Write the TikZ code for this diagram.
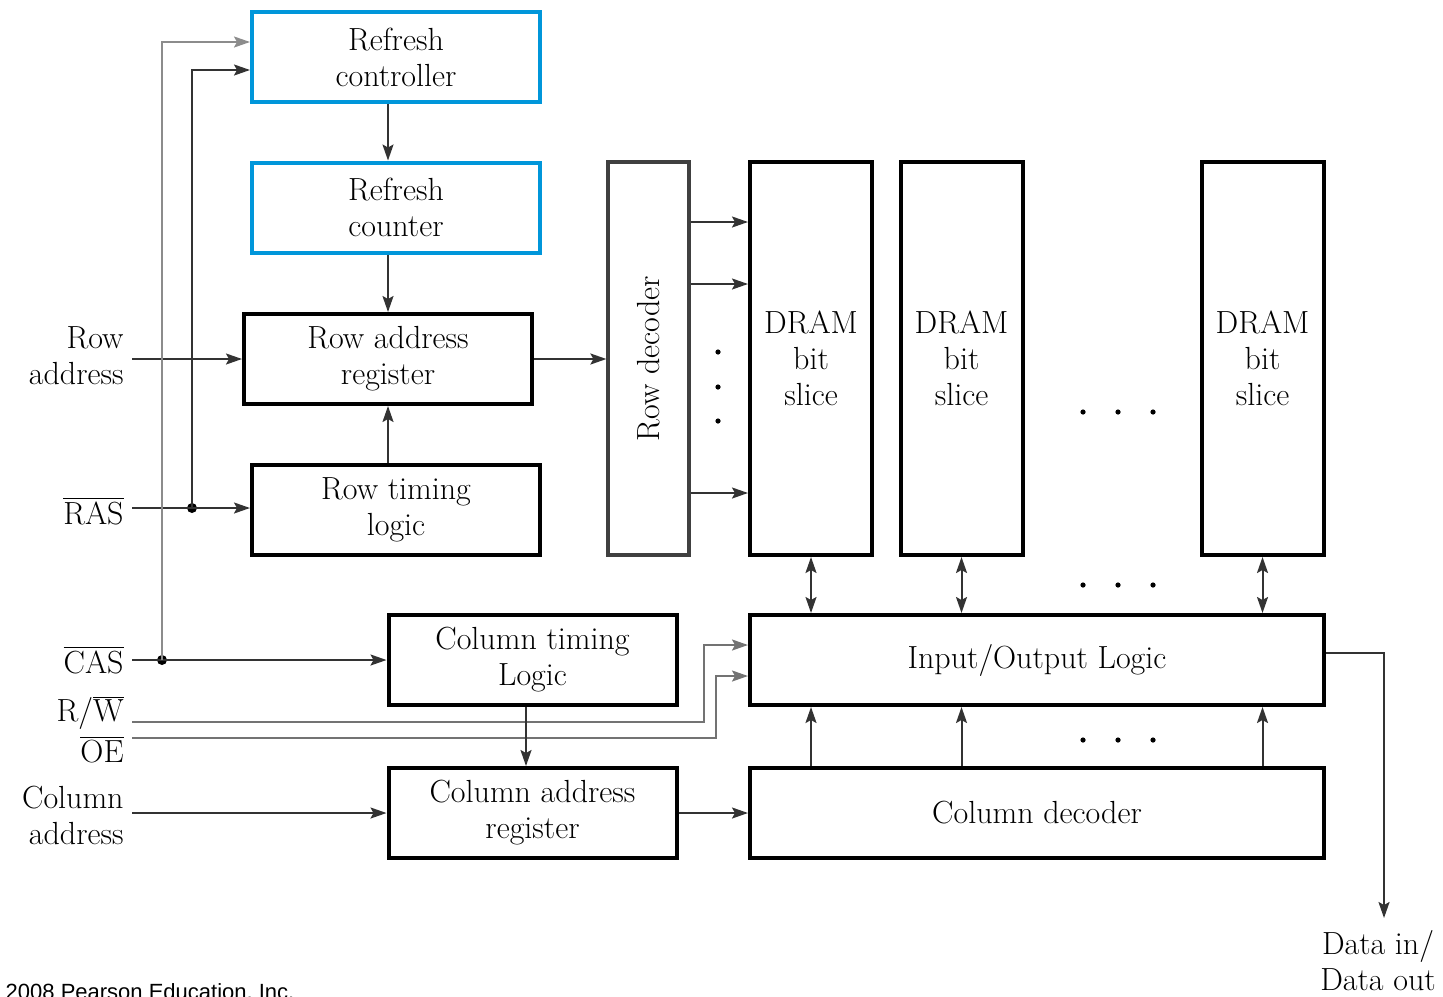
\documentclass[tikz,border=0pt]{standalone}
\usepackage{fontspec}
\newfontfamily\notefont{Liberation Sans}
\usetikzlibrary{arrows.meta}
\definecolor{refblue}{RGB}{0,150,218}
\begin{document}
\begin{tikzpicture}[x=0.5pt,y=-0.5pt,
  lbl/.style={font=\fontsize{16}{18}\selectfont, inner sep=0pt, align=center},
  box/.style={draw, line width=2pt, lbl},
  blk/.style={box, minimum width=144pt, minimum height=45pt},
  blue blk/.style={blk, draw=refblue},
  slice/.style={box, minimum width=61pt, minimum height=196.5pt},
  wide/.style={box, minimum width=287pt, minimum height=45pt},
  sig/.style={lbl, anchor=east, align=right},
  wire/.style={line width=1pt, draw=black!80},
  arr/.style={wire, -{Stealth[length=8pt,width=5.5pt,inset=1.5pt]}},
  darr/.style={wire, {Stealth[length=8pt,width=5.5pt,inset=1.5pt]}-{Stealth[length=8pt,width=5.5pt,inset=1.5pt]}},
  dot/.style={circle, fill=black, inner sep=0pt, minimum size=5pt},
  smalldot/.style={circle, fill=black, inner sep=0pt, minimum size=2.6pt}
]
\useasboundingbox (0,0) rectangle (1443,996);
\clip (0,0) rectangle (1443,996);

% control blocks
\node[blue blk] (rc)   at (396,57)    {Refresh\\controller};
\node[blue blk] (rcnt) at (396,207.5) {Refresh\\counter};
\node[blk]      (rar)  at (388,359)   {Row address\\register};
\node[blk]      (rt)   at (396,510)   {Row timing\\logic};
\node[blk]      (ct)   at (532.5,660) {Column timing\\Logic};
\node[blk]      (car)  at (532.5,813) {Column address\\register};

% array blocks
\node[box, draw=black!75, line width=1.6pt, minimum width=40.5pt, minimum height=196.5pt] (rd) at (648.5,358.5) {\rotatebox{90}{Row decoder}};
\node[slice] (d1) at (811,358.5)    {DRAM\\bit\\slice};
\node[slice] (d2) at (961.5,358.5)  {DRAM\\bit\\slice};
\node[slice] (d3) at (1262.5,358.5) {DRAM\\bit\\slice};
\node[wide] (io) at (1037,660) {Input/Output Logic};
\node[wide] (cd) at (1037,813) {Column decoder};

% external signals
\node[sig] (lrow) at (124,356) {Row\\address};
\node[sig] (lras) at (124,511) {$\overline{\mbox{RAS}}$};
\node[sig] (lcas) at (124,660) {$\overline{\mbox{CAS}}$};
\node[sig] (lrw)  at (124,713) {R/$\overline{\mbox{W}}$};
\node[sig] (loe)  at (124,750) {$\overline{\mbox{OE}}$};
\node[sig] (lcol) at (124,815) {Column\\address};
\node[lbl] (ldata) at (1378,961) {Data in/\\Data out};

\coordinate (rowin) at (132,359);
\coordinate (rasin) at (132,508);
\coordinate (casin) at (132,660);
\coordinate (rwin)  at (132,722);
\coordinate (oein)  at (132,738);
\coordinate (colin) at (132,813);
\node[dot] (rasdot) at (192,508) {};
\node[dot] (casdot) at (162,660) {};
\coordinate (dend) at (1384,918);

% refresh path
\draw[arr] ([xshift=-4pt]rc.south) -- ([xshift=-4pt]rcnt.north);
\draw[arr] ([xshift=-4pt]rcnt.south) -- (rar.north);
\draw[arr] (rt.north -| rar.south) -- (rar.south);

% row path
\draw[arr] (rowin) -- (rar.west);
\draw[arr] (rar.east) -- (rar.east -| rd.west);
\draw[arr] ([yshift=68.25pt]rd.east) -- ([yshift=68.25pt]d1.west);
\draw[arr] ([yshift=37.25pt]rd.east) -- ([yshift=37.25pt]d1.west);
\draw[arr] ([yshift=-67.25pt]rd.east) -- ([yshift=-67.25pt]d1.west);

% strobes
\draw[arr] (rasin) -- (rasin -| rt.west);
\draw[arr] (rasdot.center) |- ([yshift=-6.5pt]rc.west);
\draw[arr] (casin) -- (ct.west);
\draw[arr, draw=black!45] (casdot.center) |- ([yshift=7.5pt]rc.west);
\draw[arr, draw=black!55] (rwin) -| ([xshift=-22pt,yshift=7.5pt]io.west) -- ([yshift=7.5pt]io.west);
\draw[arr, draw=black!55] (oein) -| ([xshift=-16pt,yshift=-8pt]io.west) -- ([yshift=-8pt]io.west);

% column path
\draw[arr] ([xshift=-3.25pt]ct.south) -- ([xshift=-3.25pt]car.north);
\draw[arr] (colin) -- (car.west);
\draw[arr] (car.east) -- (cd.west);
\foreach \s in {d1,d2,d3}{
  \draw[arr] (cd.north -| \s.south) -- (io.south -| \s.south);
  \draw[darr] (\s.south) -- (io.north -| \s.south);
}

% data port
\draw[arr] ([yshift=3.5pt]io.east) -| (dend);

% ellipses
\foreach \y in {352,387,421} \node[smalldot] at (718,\y) {};
\foreach \y in {412,585,740}
  \foreach \x in {1083,1118,1153} \node[smalldot] at (\x,\y) {};

% credit line
\node[anchor=base west, inner sep=0pt, font=\notefont\fontsize{11}{13}\selectfont] (credit) at (-17,999) {\textcopyright{} 2008 Pearson Education, Inc.};
\end{tikzpicture}
\end{document}
